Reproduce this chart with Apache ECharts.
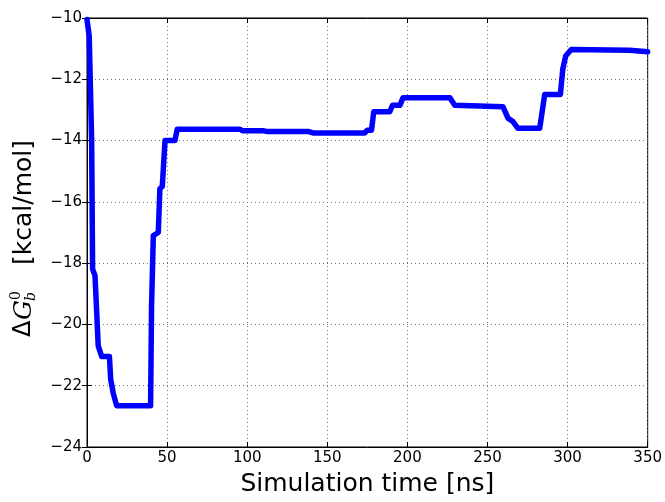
<!DOCTYPE html>
<html>
<head>
<meta charset="utf-8">
<script src="https://cdn.jsdelivr.net/npm/echarts@6/dist/echarts.min.js"></script>
<style>
  html, body { margin: 0; padding: 0; background: #fff; }
  #chart { width: 665px; height: 502px; }
</style>
</head>
<body>
<div id="chart"></div>
<script>
// simulation time [ns] and binding free energy [kcal/mol]
var times = [0, 1.4, 2.9, 3.5, 5, 7, 9.2, 14, 14.8, 16.4, 18.5, 39.7, 40.3, 41.4, 44.5, 45.5, 47, 48.7, 54.9, 56.3,
  95.5, 97, 110, 112, 138, 141, 173.4, 175, 177.6, 179, 189, 190.7, 195.3, 197.3, 226.5, 229.6, 259.7,
  262.8, 265.9, 269, 282.6, 285.7, 295.5, 297, 298.8, 302.3, 338.7, 350];
var dG = [-10.05, -10.6, -14.0, -18.2, -18.4, -20.7, -21.05, -21.05, -21.8, -22.25, -22.65, -22.65, -19.4, -17.1, -17.0, -15.57, -15.5, -14.0, -14.0, -13.63,
  -13.63, -13.68, -13.68, -13.7, -13.7, -13.75, -13.75, -13.66, -13.66, -13.06, -13.06, -12.85, -12.85, -12.6, -12.6, -12.85, -12.9,
  -13.27, -13.38, -13.6, -13.6, -12.5, -12.5, -11.67, -11.24, -11.03, -11.05, -11.1];

var xTicks = [0, 350, 50];   // min, max, step
var yTicks = [-24, -10, 2];

var points = [];
times.forEach(function (t, i) {
  points.push([t, dG[i]]);
});

var chart = echarts.init(document.getElementById('chart'));

var tickStyle = { show: true, inside: true, length: 5, lineStyle: { color: '#000', width: 1 } };
var gridLine = { show: true, lineStyle: { color: '#777', width: 1, type: [1, 3] } };
var font = 'DejaVu Sans';

var option = {
  animation: false,
  grid: { left: 87, right: 17, top: 18, bottom: 48, show: true, borderColor: '#000', borderWidth: 1 },
  xAxis: [
    {
      type: 'value', min: xTicks[0], max: xTicks[1], interval: xTicks[2],
      axisLine: { lineStyle: { color: '#000', width: 1 } },
      axisTick: tickStyle,
      axisLabel: { color: '#000', fontFamily: font, fontSize: 15, margin: 4 },
      splitLine: gridLine,
      name: 'Simulation time [ns]', nameLocation: 'middle', nameGap: 25,
      nameTextStyle: { color: '#000', fontFamily: font, fontSize: 25 }
    },
    {
      type: 'value', position: 'top', min: xTicks[0], max: xTicks[1], interval: xTicks[2],
      axisLine: { lineStyle: { color: '#000' } }, axisTick: tickStyle,
      axisLabel: { show: false }, splitLine: { show: false }
    }
  ],
  yAxis: [
    {
      type: 'value', min: yTicks[0], max: yTicks[1], interval: yTicks[2],
      axisLine: { show: true, lineStyle: { color: '#000', width: 1 } },
      axisTick: tickStyle,
      axisLabel: {
        color: '#000', fontFamily: font, fontSize: 15, margin: 5,
        formatter: function (v) { return String(v).replace('-', '\u2212'); }
      },
      splitLine: gridLine
    },
    {
      type: 'value', position: 'right', min: yTicks[0], max: yTicks[1], interval: yTicks[2],
      axisLine: { show: true, lineStyle: { color: '#000' } }, axisTick: tickStyle,
      axisLabel: { show: false }, splitLine: { show: false }
    }
  ],
  graphic: [
    {
      type: 'group', x: 24, y: 337, rotation: Math.PI / 2, silent: true,
      children: [
        { type: 'text', x: 0, y: 0, style: { text: '\u0394', font: '24px DejaVu Sans', fill: '#000', align: 'left', verticalAlign: 'middle', textAlign: 'left', textVerticalAlign: 'middle' } },
        { type: 'text', x: 17, y: 0, style: { text: 'G', font: 'italic 25px DejaVu Serif', fill: '#000', align: 'left', verticalAlign: 'middle', textAlign: 'left', textVerticalAlign: 'middle' } },
        { type: 'text', x: 37, y: -8, style: { text: '0', font: '14px DejaVu Serif', fill: '#000', align: 'left', verticalAlign: 'middle', textAlign: 'left', textVerticalAlign: 'middle' } },
        { type: 'text', x: 36, y: 7, style: { text: 'b', font: 'italic 14px DejaVu Serif', fill: '#000', align: 'left', verticalAlign: 'middle', textAlign: 'left', textVerticalAlign: 'middle' } },
        { type: 'text', x: 72, y: 0, style: { text: '[kcal/mol]', font: '25px DejaVu Sans', fill: '#000', align: 'left', verticalAlign: 'middle', textAlign: 'left', textVerticalAlign: 'middle' } }
      ]
    }
  ],
  series: [
    {
      type: 'line',
      data: points,
      showSymbol: false,
      lineStyle: { color: '#0000ff', width: 5.5, join: 'round', cap: 'round' },
      itemStyle: { color: '#0000ff' }
    }
  ]
};

chart.setOption(option);
</script>
</body>
</html>
